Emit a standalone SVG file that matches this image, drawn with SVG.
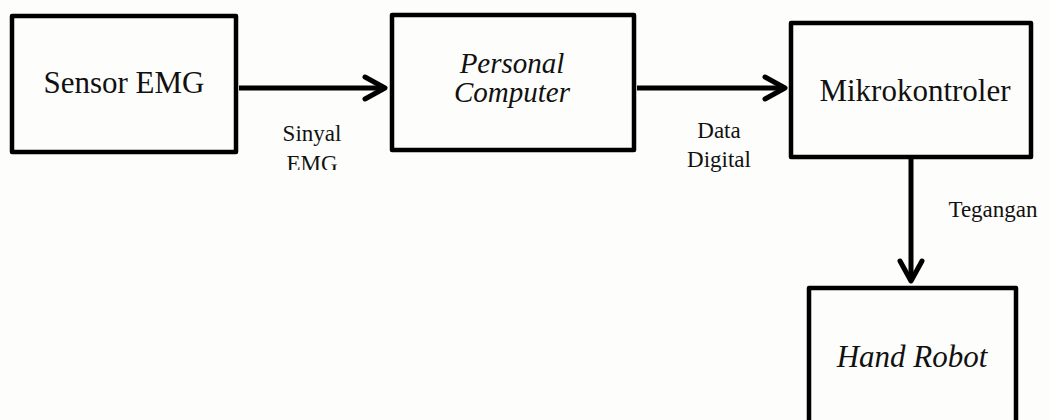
<svg xmlns="http://www.w3.org/2000/svg" width="1049" height="420" viewBox="0 0 1049 420">
<style>
.box{fill:none;stroke:#000;stroke-width:4.5;stroke-linejoin:round}
.lbl{font-family:"Liberation Serif","Times New Roman",serif;fill:#111;text-anchor:middle}
.big{font-size:31px}
.it{font-style:italic}
.small{font-size:23px}
.conn{stroke:#000;stroke-width:5;fill:none}
</style>
<defs>
<marker id="arr" markerUnits="userSpaceOnUse" viewBox="-26 -16 30 32" markerWidth="30" markerHeight="32" refX="0" refY="0" orient="auto">
<path d="M-20,-11 L0,0 L-20,11" fill="none" stroke="#000" stroke-width="5" stroke-linecap="round" stroke-linejoin="round"/>
</marker>
<clipPath id="clipEMG"><rect x="260" y="120" width="110" height="50"/></clipPath>
</defs>
<rect x="0" y="0" width="1049" height="420" fill="#fdfdfb"/>
<g id="connectors">
<line class="conn" x1="239" y1="88" x2="385" y2="88" marker-end="url(#arr)"/>
<line class="conn" x1="637" y1="88" x2="785" y2="88" marker-end="url(#arr)"/>
<line class="conn" x1="911" y1="158" x2="911" y2="281" marker-end="url(#arr)"/>
<text class="lbl small" x="312" y="141" clip-path="url(#clipEMG)">Sinyal<tspan x="312" dy="30">EMG</tspan></text>
<text class="lbl small" x="719" y="138">Data<tspan x="719" dy="29">Digital</tspan></text>
<text class="lbl small" x="993" y="217">Tegangan</text>
</g>
<g id="sensor-emg">
<rect class="box" x="12" y="16" width="224" height="136"/>
<text class="lbl big" x="124" y="93">Sensor EMG</text>
</g>
<g id="personal-computer">
<rect class="box" x="392" y="15" width="242" height="135"/>
<text class="lbl big it" x="512" y="73" style="font-size:29px">Personal<tspan x="512" dy="29">Computer</tspan></text>
</g>
<g id="mikrokontroler">
<rect class="box" x="791" y="23" width="240" height="134"/>
<text class="lbl big" x="915" y="101">Mikrokontroler</text>
</g>
<g id="hand-robot">
<rect class="box" x="809" y="288" width="207" height="145"/>
<text class="lbl big it" x="912" y="367">Hand Robot</text>
</g>
</svg>
